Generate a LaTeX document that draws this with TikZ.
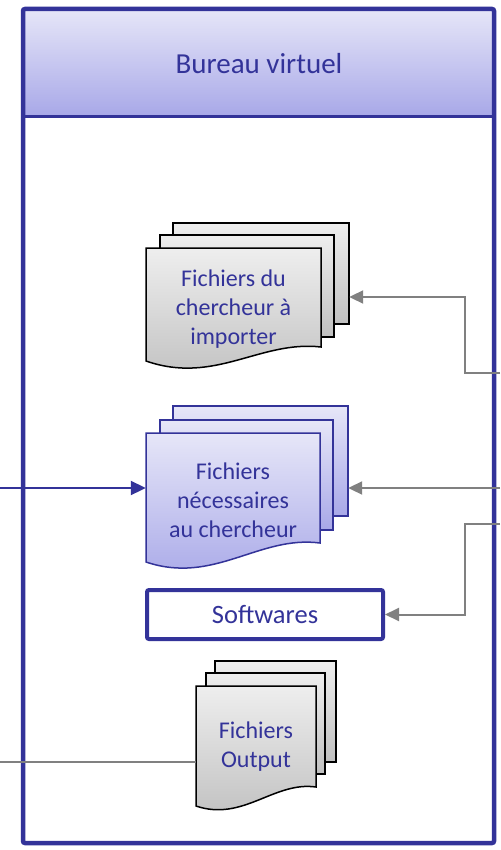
\documentclass[tikz,border=0pt]{standalone}
\usepackage{fontspec}
\setmainfont{Carlito}
\usetikzlibrary{arrows.meta}
\definecolor{navy}{RGB}{51,51,153}
\definecolor{hdtop}{RGB}{230,230,248}
\definecolor{hdbot}{RGB}{168,168,232}
\definecolor{gtop}{RGB}{238,238,238}
\definecolor{gbot}{RGB}{192,192,192}
\definecolor{conn}{RGB}{128,128,128}
\tikzset{
 graypage/.style={draw=black, line width=1.5pt, top color=gtop, bottom color=gbot},
 bluepage/.style={draw=navy, line width=1.5pt, top color=hdtop, bottom color=hdbot},
 lbl/.style={text=navy, font=\fontsize{24}{29}\selectfont, align=center, inner sep=0pt},
 anchorbox/.style={draw=none, inner sep=0pt},
 grayconn/.style={draw=conn, line width=2pt},
 grayarrow/.style={grayconn, -{Triangle[length=14pt,width=13pt]}},
 bluearrow/.style={draw=navy, line width=2pt, -{Triangle[length=15pt,width=14pt]}},
}
\begin{document}
\begin{tikzpicture}[x=1pt,y=-1pt]
\useasboundingbox (0,0) rectangle (500,850);
% frame
\fill[white] (23,9) rectangle (494,843);
\shade[top color=hdtop, bottom color=hdbot] (23,9) rectangle (494,116.5);
\draw[navy, line width=3pt] (23,116.5) -- (494,116.5);
\draw[navy, line width=4.5pt, rounded corners=2pt] (23,9) rectangle (494,843);
\node[lbl, font=\fontsize{29}{34}\selectfont] (title) at (259,64) {Bureau virtuel};
% document 1
\path[graypage] (173,223) rectangle (349,324);
\path[graypage] (160,235) rectangle (334,337);
\path[graypage] (146,248) -- (321,248) -- (321,347) .. controls (260,340) and (215,385) .. (146,361) -- cycle;
\node[anchorbox, minimum width=176pt, minimum height=101pt] (d1back) at (261,273.5) {};
\node[lbl, minimum width=175pt] (d1) at (233.5,309) {Fichiers du\\chercheur à\\importer};
% document 2
\path[bluepage] (173,406) rectangle (348,516);
\path[bluepage] (160,420) rectangle (333,530);
\path[bluepage] (146,433) -- (320,433) -- (320,543) .. controls (259,535) and (214,585) .. (146,562) -- cycle;
\node[anchorbox, minimum width=175pt, minimum height=110pt] (d2back) at (260.5,461) {};
\node[lbl, minimum width=174pt] (d2) at (233,500) {Fichiers\\nécessaires\\au chercheur};
% softwares
\node[lbl, font=\fontsize{26.5}{30}\selectfont, draw=navy, line width=4pt, rounded corners=2pt, fill=white, minimum width=236pt, minimum height=49pt] (sw) at (265,614.5) {Softwares};
% document 3
\path[graypage] (215,661) rectangle (336,762);
\path[graypage] (206,673) rectangle (325,774);
\path[graypage] (196,686) -- (316,686) -- (316,787) .. controls (274,781) and (243,822) .. (196,806) -- cycle;
\node[lbl, minimum width=120pt] (d3) at (256,747) {Fichiers\\Output};
% connectors
\coordinate (l1) at (0,488);
\coordinate (l2) at (0,762);
\coordinate (r1) at (500,373);
\coordinate (r2) at (500,488);
\coordinate (r3) at (500,524);
\draw[bluearrow] (l1) -- (l1 -| d2.west);
\draw[grayconn] (l2) -- (l2 -| d3.west);
\draw[grayarrow] (r1) -- (465,373) -- (465,297) -- (d1back.east |- 0,297);
\draw[grayarrow] (r2) -- (r2 -| d2back.east);
\draw[grayarrow] (r3) -- (465,524) |- (sw.east);
\end{tikzpicture}
\end{document}
